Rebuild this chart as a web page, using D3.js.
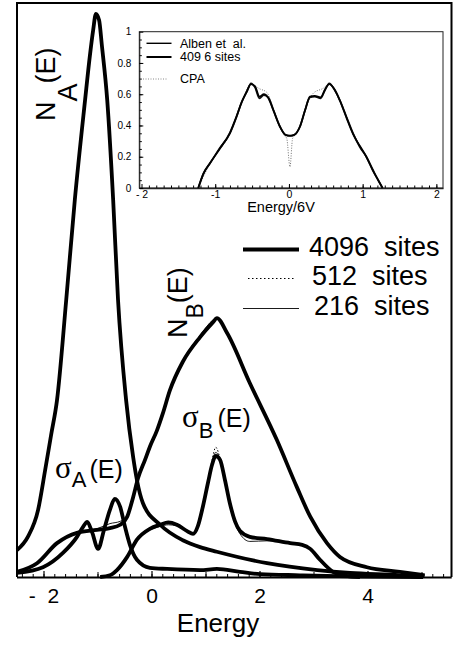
<!DOCTYPE html>
<html>
<head>
<meta charset="utf-8">
<script src="https://cdn.jsdelivr.net/npm/d3@7"></script>
<style>
body { margin: 0; background: #fff; }
svg { display: block; font-family: "Liberation Sans", Arial, Helvetica, sans-serif; }
</style>
</head>
<body>
<div id="chart-area"></div>
<script>
// ---- main panel data (energy, value) ----
var energyNA = [-2.49,-2.29,-2.10,-1.97,-1.86,-1.75,-1.58,-1.42,-1.23,-1.14,-1.08,-1.03,-0.97,-0.92,-0.82,-0.71,-0.62,-0.47,-0.34,-0.27,-0.16,0.16,0.58,0.90,1.21,2.14,3.07,3.68,4.6,5.03];
var nA4096 = [0.047,0.070,0.117,0.186,0.247,0.308,0.482,0.657,0.831,0.909,0.953,0.981,0.970,0.927,0.831,0.657,0.483,0.308,0.209,0.169,0.129,0.091,0.064,0.052,0.044,0.024,0.012,0.007,0.003,0];
var nA216 = [0.047,0.070,0.117,0.186,0.247,0.308,0.482,0.657,0.831,0.909,0.951,0.978,0.968,0.927,0.831,0.657,0.483,0.308,0.209,0.169,0.129,0.091,0.064,0.052,0.044,0.024,0.012,0.007,0.003,0];

var energyNB = [-2.49,-2.12,-1.75,-1.38,-1.01,-0.77,-0.58,-0.45,-0.34,-0.25,-0.12,-0.03,0.10,0.21,0.34,0.58,0.90,1.14,1.21,1.40,1.82,2.32,2.69,2.94,3.25,3.49,3.99,4.6,5.06];
var nB4096 = [0.009,0.024,0.059,0.077,0.082,0.085,0.091,0.105,0.139,0.172,0.204,0.227,0.255,0.285,0.325,0.375,0.418,0.444,0.451,0.425,0.338,0.239,0.157,0.105,0.059,0.035,0.017,0.009,0.003];
var nB216 = [0.009,0.024,0.059,0.077,0.084,0.093,0.097,0.107,0.139,0.172,0.204,0.227,0.255,0.285,0.325,0.377,0.421,0.448,0.452,0.424,0.338,0.239,0.157,0.105,0.059,0.035,0.017,0.009,0.003];

var energySA = [-2.49,-2.01,-1.64,-1.38,-1.27,-1.19,-1.10,-0.99,-0.88,-0.77,-0.68,-0.58,-0.49,-0.40,-0.27,-0.03,0.29,0.90,1.21,1.64,2.01,2.75,3.68,5.03];
var sA4096 = [0.007,0.017,0.042,0.070,0.087,0.096,0.078,0.049,0.082,0.117,0.136,0.122,0.087,0.056,0.030,0.016,0.014,0.012,0.014,0.009,0.005,0.003,0.001,0];
var sA216 = [0.007,0.017,0.042,0.070,0.087,0.095,0.079,0.050,0.083,0.118,0.134,0.125,0.091,0.058,0.031,0.016,0.014,0.012,0.014,0.009,0.005,0.003,0.001,0];

var energySB = [-0.95,-0.77,-0.64,-0.45,-0.27,-0.03,0.16,0.31,0.47,0.66,0.77,0.86,0.95,1.05,1.12,1.19,1.27,1.36,1.45,1.55,1.64,1.82,2.14,2.57,2.79,2.94,3.12,3.36,3.58,3.86];
var sB4096 = [0,0.003,0.012,0.035,0.065,0.084,0.091,0.095,0.091,0.080,0.075,0.089,0.122,0.166,0.195,0.211,0.204,0.169,0.129,0.096,0.080,0.070,0.066,0.059,0.056,0.049,0.030,0.009,0.002,0];
var sB512 = [0,0.003,0.012,0.035,0.065,0.084,0.091,0.095,0.091,0.080,0.075,0.089,0.122,0.168,0.203,0.226,0.206,0.169,0.129,0.096,0.080,0.070,0.066,0.059,0.056,0.049,0.030,0.009,0.002,0];
var sB216 = [0,0.003,0.012,0.035,0.064,0.082,0.088,0.091,0.089,0.080,0.075,0.089,0.122,0.167,0.199,0.217,0.205,0.168,0.127,0.093,0.075,0.062,0.063,0.059,0.056,0.049,0.030,0.009,0.002,0];

var xTickValues = [-2, 0, 2, 4];
var xTickLabels = ["-  2", "0", "2", "4"];
var legendLabels = ["4096  sites", "512  sites", "216  sites"];

// ---- inset data ----
var insetE = [-1.23,-1.16,-1.07,-0.94,-0.80,-0.71,-0.64,-0.57,-0.515,-0.46,-0.40,-0.34,-0.28,-0.21,-0.12,-0.045,0.015,0.07,0.15,0.22,0.285,0.35,0.43,0.49,0.546,0.62,0.69,0.78,0.87,0.96,1.05,1.14,1.21,1.27];
var insetAlben = [0,0.094,0.158,0.254,0.35,0.456,0.552,0.616,0.67,0.644,0.574,0.595,0.58,0.499,0.392,0.339,0.333,0.339,0.392,0.499,0.58,0.584,0.574,0.627,0.67,0.627,0.563,0.456,0.35,0.264,0.2,0.115,0.051,0];
var inset4096 = [0,0.09,0.16,0.25,0.355,0.46,0.55,0.62,0.665,0.65,0.585,0.6,0.575,0.495,0.39,0.34,0.335,0.34,0.395,0.5,0.585,0.59,0.58,0.63,0.665,0.63,0.56,0.45,0.345,0.27,0.2,0.11,0.05,0];
var cpaE = [-1.23,-1.07,-0.80,-0.64,-0.515,-0.40,-0.30,-0.21,-0.12,-0.06,-0.03,0.014,0.05,0.09,0.15,0.22,0.33,0.465,0.546,0.69,0.87,1.05,1.21,1.27];
var cpa = [0,0.16,0.35,0.55,0.665,0.635,0.612,0.5,0.39,0.335,0.318,0.136,0.318,0.34,0.39,0.5,0.606,0.638,0.665,0.56,0.35,0.2,0.05,0];
var insetXTicks = [-2, -1, 0, 1, 2];
var insetXLabels = ["- 2", "-1", "0", "1", "2"];
var insetYTicks = [0, 0.2, 0.4, 0.6, 0.8, 1];
var insetYLabels = ["0", "0.2", "0.4", "0.6", "0.8", "1"];
var insetLegend = ["Alben et  al.", "409 6 sites", "CPA"];

var svg = d3.select("#chart-area").append("svg")
	.attr("width", 456)
	.attr("height", 645);

var x = d3.scaleLinear().domain([-2.5, 5.55]).range([16.5, 451.2]);
var y = d3.scaleLinear().domain([0, 1]).range([577, 3]);

// frame (left, top, right)
svg.append("path")
	.attr("d", "M17,577 V3 H451.5 V577")
	.attr("fill", "none")
	.attr("stroke", "#000")
	.attr("stroke-width", 2);

// minor ticks every 0.2
var minorG = svg.append("g").attr("transform", "translate(0,577)")
	.call(d3.axisBottom(x).tickValues(d3.range(-2.4, 5.5, 0.2)).tickSize(-3).tickFormat(""));
minorG.select(".domain").remove();

var oddG = svg.append("g").attr("transform", "translate(0,577)")
	.call(d3.axisBottom(x).tickValues([-1, 1, 3, 5]).tickSize(-5).tickFormat(""));
oddG.select(".domain").remove();

var gx = svg.append("g").attr("transform", "translate(0,577)")
	.call(d3.axisBottom(x).tickValues(xTickValues)
		.tickFormat(function(d, i) { return xTickLabels[i]; })
		.tickSizeInner(-6).tickSizeOuter(0).tickPadding(11));
gx.attr("font-family", null).attr("font-size", 21);
gx.select(".domain").attr("stroke-width", 2);
gx.selectAll(".tick line").attr("stroke-width", 1.2);
gx.selectAll("text").style("white-space", "pre");

svg.append("text")
	.attr("x", 218).attr("y", 632)
	.attr("text-anchor", "middle")
	.attr("font-size", 26)
	.text("Energy");

// curves
var line = d3.line()
	.x(function(d) { return x(d[0]); })
	.y(function(d) { return y(d[1]); })
	.curve(d3.curveMonotoneX);

function curve(es, vs, w, dash) {
	svg.append("path")
		.attr("d", line(d3.zip(es, vs)))
		.attr("fill", "none")
		.attr("stroke", "#000")
		.attr("stroke-width", w)
		.attr("stroke-dasharray", dash || null)
		.attr("stroke-linejoin", "round");
}

curve(energyNA, nA4096, 3.8);
curve(energyNB, nB4096, 3.8);
curve(energySA, sA4096, 3.8);
curve(energySB, sB4096, 3.8);
curve(energySB, sB512, 1, "1.5,2");
curve(energyNA, nA216, 0.9);
curve(energyNB, nB216, 0.9);
curve(energySA, sA216, 0.9);
curve(energySB, sB216, 0.9);

// curve labels
var la = svg.append("text")
	.attr("transform", "translate(55,121) rotate(-90)")
	.attr("font-size", 27);
la.append("tspan").text("N");
la.append("tspan").attr("dy", 22).text("A");
la.append("tspan").attr("dy", -22).text("(E)");

var lb = svg.append("text")
	.attr("transform", "translate(187,338) rotate(-90)")
	.attr("font-size", 27);
lb.append("tspan").text("N");
lb.append("tspan").attr("dy", 16).attr("font-size", 23).text("B");
lb.append("tspan").attr("dy", -16).text("(E)");

var sa = svg.append("text").attr("x", 55).attr("y", 478);
sa.append("tspan").attr("font-family", "'Liberation Serif', 'Times New Roman', serif").attr("font-size", 31).text("σ");
sa.append("tspan").attr("dy", 9).attr("font-size", 22).text("A");
sa.append("tspan").attr("dy", -9).attr("dx", 3).attr("font-size", 25).text("(E)");

var sb = svg.append("text").attr("x", 182).attr("y", 427);
sb.append("tspan").attr("font-family", "'Liberation Serif', 'Times New Roman', serif").attr("font-size", 31).text("σ");
sb.append("tspan").attr("dy", 11).attr("font-size", 22).text("B");
sb.append("tspan").attr("dy", -11).attr("dx", 4).attr("font-size", 25).text("(E)");

// main legend
var legY = [249.5, 278.5, 308.5];
var legX = [309, 312, 314];
var legW = [3.8, 1, 0.9];
var legDash = [null, "1.5,2.5", null];
legendLabels.forEach(function(t, i) {
	svg.append("line")
		.attr("x1", i == 1 ? 248 : 243).attr("x2", i == 1 ? 295 : 299)
		.attr("y1", legY[i]).attr("y2", legY[i])
		.attr("stroke", "#000")
		.attr("stroke-width", legW[i])
		.attr("stroke-dasharray", legDash[i]);
	svg.append("text")
		.attr("x", legX[i]).attr("y", legY[i] + 6.5)
		.attr("font-size", 27)
		.style("white-space", "pre")
		.text(t);
});

// ---- inset ----
var xi = d3.scaleLinear().domain([-2.03, 2.09]).range([139.3, 443]);
var yi = d3.scaleLinear().domain([0, 1]).range([188, 31.7]);

svg.append("rect")
	.attr("x", xi(-2.03)).attr("y", yi(1))
	.attr("width", xi(2.09) - xi(-2.03))
	.attr("height", yi(0) - yi(1))
	.attr("fill", "#fff")
	.attr("stroke", "#222")
	.attr("stroke-width", 1);

var ixm = svg.append("g").attr("transform", "translate(0," + yi(0) + ")")
	.call(d3.axisBottom(xi).tickValues(d3.range(-1.9, 2.05, 0.1)).tickSize(-2.5).tickFormat(""));
ixm.select(".domain").remove();

var ix = svg.append("g").attr("transform", "translate(0," + yi(0) + ")")
	.call(d3.axisBottom(xi).tickValues(insetXTicks)
		.tickFormat(function(d, i) { return insetXLabels[i]; })
		.tickSizeInner(-4).tickSizeOuter(0).tickPadding(2.5));
ix.attr("font-family", null).attr("font-size", 10.5);
ix.select(".domain").attr("stroke", "#222").attr("stroke-width", 1.5);
ix.selectAll("text").style("white-space", "pre");

var iym = svg.append("g").attr("transform", "translate(" + xi(-2.03) + ",0)")
	.call(d3.axisLeft(yi).tickValues(d3.range(0.05, 1, 0.05)).tickSize(-2.5).tickFormat(""));
iym.select(".domain").remove();

var iy = svg.append("g").attr("transform", "translate(" + xi(-2.03) + ",0)")
	.call(d3.axisLeft(yi).tickValues(insetYTicks)
		.tickFormat(function(d, i) { return insetYLabels[i]; })
		.tickSizeInner(-4).tickSizeOuter(0).tickPadding(8));
iy.attr("font-family", null).attr("font-size", 10);
iy.select(".domain").attr("stroke", "#222");

svg.append("text")
	.attr("x", 281).attr("y", 211.5)
	.attr("text-anchor", "middle")
	.attr("font-size", 14.5)
	.text("Energy/6V");

var iline = d3.line()
	.x(function(d) { return xi(d[0]); })
	.y(function(d) { return yi(d[1]); })
	.curve(d3.curveMonotoneX);

svg.append("path")
	.attr("d", iline(d3.zip(cpaE, cpa)))
	.attr("fill", "none").attr("stroke", "#777")
	.attr("stroke-width", 1).attr("stroke-dasharray", "1,1.5");
svg.append("path")
	.attr("d", iline(d3.zip(insetE, insetAlben)))
	.attr("fill", "none").attr("stroke", "#111").attr("stroke-width", 1.8);
svg.append("path")
	.attr("d", iline(d3.zip(insetE, inset4096)))
	.attr("fill", "none").attr("stroke", "#000").attr("stroke-width", 1.8);

var iLegY = [43.3, 57, 79];
insetLegend.forEach(function(t, i) {
	svg.append("line")
		.attr("x1", i == 2 ? 143 : 146.5).attr("x2", i == 2 ? 167 : 171.5)
		.attr("y1", iLegY[i]).attr("y2", iLegY[i])
		.attr("stroke", i == 2 ? "#888" : "#000")
		.attr("stroke-width", i == 0 ? 1.4 : (i == 1 ? 2 : 1))
		.attr("stroke-dasharray", i == 2 ? "1,1.5" : null);
	svg.append("text")
		.attr("x", 180).attr("y", iLegY[i] + 4.3)
		.attr("font-size", 12.5)
		.style("white-space", "pre")
		.text(t);
});
</script>
</body>
</html>
